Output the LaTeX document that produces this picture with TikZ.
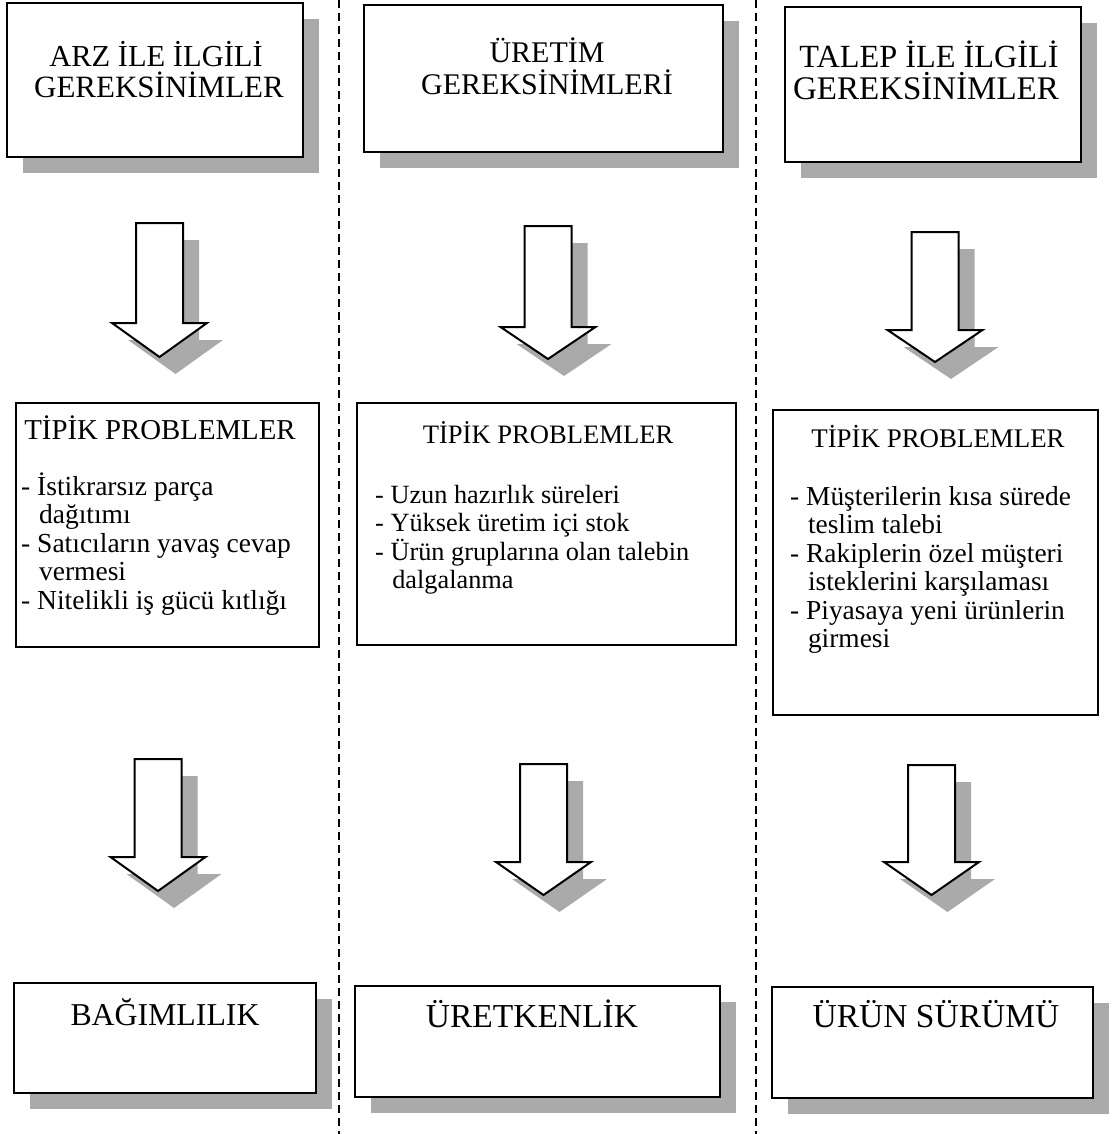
\documentclass[tikz,border=0pt]{standalone}
\usepackage{fontspec}
\setmainfont{Liberation Serif}
\definecolor{shadowgray}{RGB}{170,170,170}
\newcommand\cont{\hspace*{0.65em}}
% block arrow pointing down: centre x, top y, shaft bottom y, tip y
\newcommand\blockdown[4]{%
  \fill[shade] (#1-23.5+16,#2+17) -- (#1+23.5+16,#2+17) -- (#1+23.5+16,#3+17)
    -- (#1+47.5+16,#3+17) -- (#1+16,#4+17) -- (#1-47.5+16,#3+17)
    -- (#1-23.5+16,#3+17) -- cycle;
  \draw[blockarrow] (#1-23.5,#2) -- (#1+23.5,#2) -- (#1+23.5,#3)
    -- (#1+47.5,#3) -- (#1,#4) -- (#1-47.5,#3) -- (#1-23.5,#3) -- cycle;}
% shadowed frame: name, left, top, right, bottom, style
\newcommand\shadebox[6]{%
  \fill[shade] (#2+16,#3+16) rectangle (#4+16,#5+16);
  \node[#6, minimum width=#4-#2, minimum height=#5-#3, anchor=north west] (#1) at (#2,#3) {};}
\newcommand\plainbox[5]{%
  \node[listframe, minimum width=#4-#2, minimum height=#5-#3, anchor=north west] (#1) at (#2,#3) {};}
% list lines: x, first baseline, name prefix, font size, lines
\newcommand\listlines[5]{%
  \foreach \txt [count=\i from 0] in {#5}
    {\node[listtext=#4, anchor=base west] (#3\i) at (#1,#2+\i*28.5) {\txt};}}
\begin{document}
\begin{tikzpicture}[x=1pt,y=-1pt,
  shade/.style={fill=shadowgray, draw=none},
  headframe/.style={draw=black, line width=2pt, fill=white, inner sep=0pt, outer sep=0pt},
  listframe/.style={draw=black, line width=1.4pt, fill=white, inner sep=0pt, outer sep=0pt},
  divider/.style={line width=2pt, dash pattern=on 8pt off 5pt},
  blockarrow/.style={draw=black, line width=2pt, fill=white, line join=miter},
  headtext/.style={font=\fontsize{#1}{#1}\selectfont, inner sep=0pt, anchor=base},
  headtext/.default=31,
  titletext/.style={font=\fontsize{#1}{#1}\selectfont, inner sep=0pt, anchor=base},
  titletext/.default=27.5,
  listtext/.style={font=\fontsize{#1}{#1}\selectfont, inner sep=0pt},
]
\useasboundingbox (0,0) rectangle (1113,1134);
\fill[white] (0,0) rectangle (1113,1134);

% column dividers
\coordinate (d1t) at (339,0);   \coordinate (d1b) at (339,1134);
\coordinate (d2t) at (756,0);   \coordinate (d2b) at (756,1134);
\draw[divider] (d1t) -- (d1b);
\draw[divider] (d2t) -- (d2b);

% ---------- top boxes ----------
\shadebox{t1}{7}{3}{303}{157}{headframe}
\node[headtext=30.5] (t1a) at (156,67) {ARZ İLE İLGİLİ};
\node[headtext=31] (t1b) at (159,98) {GEREKSİNİMLER};

\shadebox{t2}{364}{5}{723}{152}{headframe}
\node[headtext=30] (t2a) at (547,63) {ÜRETİM};
\node[headtext=30] (t2b) at (547,95) {GEREKSİNİMLERİ};

\shadebox{t3}{785}{7}{1081}{162}{headframe}
\node[headtext=32.3] (t3a) at (929,68) {TALEP İLE İLGİLİ};
\node[headtext=33] (t3b) at (926,100) {GEREKSİNİMLER};

% ---------- upper arrows ----------
\blockdown{159.5}{223}{323}{357}
\blockdown{548}{226}{327}{359}
\blockdown{935}{232}{330}{362}

% ---------- problem boxes ----------
\plainbox{p1}{16}{403}{319}{647}
\node[titletext=28.8] (p1t) at (160,439) {TİPİK PROBLEMLER};
\listlines{21}{495}{p1l}{27.5}{%
  - İstikrarsız parça,
  \cont dağıtımı,
  - Satıcıların yavaş cevap,
  \cont vermesi,
  - Nitelikli iş gücü kıtlığı}

\plainbox{p2}{357}{403}{736}{645}
\node[titletext=26.6] (p2t) at (548,443) {TİPİK PROBLEMLER};
\listlines{375}{503}{p2l}{26.3}{%
  - Uzun hazırlık süreleri,
  - Yüksek üretim içi stok,
  - Ürün gruplarına olan talebin,
  \cont dalgalanma}

\plainbox{p3}{773}{410}{1098}{715}
\node[titletext=26.9] (p3t) at (938,447) {TİPİK PROBLEMLER};
\listlines{790}{505}{p3l}{27.4}{%
  - Müşterilerin kısa sürede,
  \cont teslim talebi,
  - Rakiplerin özel müşteri,
  \cont isteklerini karşılaması,
  - Piyasaya yeni ürünlerin,
  \cont girmesi}

% ---------- lower arrows ----------
\blockdown{158}{759}{857}{891}
\blockdown{543.5}{764}{862}{895}
\blockdown{931.5}{765}{862}{895}

% ---------- result boxes ----------
\shadebox{r1}{14}{983}{316}{1093}{headframe}
\node[headtext=31.8] (r1t) at (165,1025) {BAĞIMLILIK};

\shadebox{r2}{355}{986}{720}{1097}{headframe}
\node[headtext=33.5] (r2t) at (532,1027) {ÜRETKENLİK};

\shadebox{r3}{772}{987}{1093}{1098}{headframe}
\node[headtext=33.5] (r3t) at (936,1027) {ÜRÜN SÜRÜMÜ};
\end{tikzpicture}
\end{document}
